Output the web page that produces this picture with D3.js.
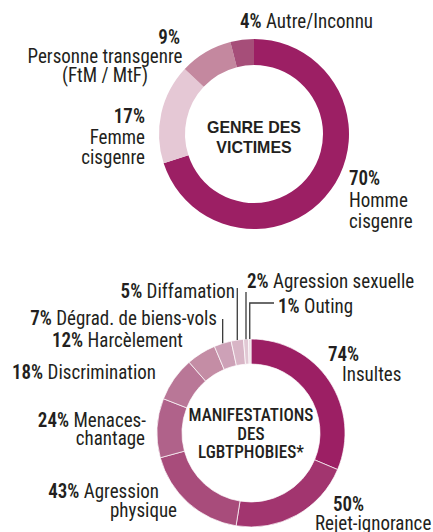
<!DOCTYPE html>
<html>
<head>
<meta charset="utf-8">
<script src="https://cdn.jsdelivr.net/npm/d3@7"></script>
<style>
  body { margin: 0; background: #fff; }
</style>
</head>
<body>
<svg id="mainsvg" width="433" height="532"></svg>
<script>
// ---- data ----
const genreValues = [70, 17, 9, 4];
const genreNames = [['Homme', 'cisgenre'], ['Femme', 'cisgenre'], ['Personne transgenre', '(FtM / MtF)'], ['Autre/Inconnu']];
const genreColors = ['#9c1f64', '#e5c8d5', '#c4889f', '#a64e79'];
const genreTitle = ['GENRE DES', 'VICTIMES'];

const manifValues = [74, 50, 43, 24, 18, 12, 7, 5, 2, 1];
const manifNames = [['Insultes'], ['Rejet-ignorance'], ['Agression', 'physique'], ['Menaces-', 'chantage'],
  ['Discrimination'], ['Harcèlement'], ['Dégrad. de biens-vols'], ['Diffamation'], ['Agression sexuelle'], ['Outing']];
const manifColors = ['#9c1f64', '#a2356f', '#a84c7b', '#b0628a', '#b97797', '#c48da5', '#cda1b7', '#d8b5c6', '#e1c8d4', '#ebdae2'];
const manifTitle = ['MANIFESTATIONS', 'DES', 'LGBTPHOBIES*'];

// ---- label layout (pct on own line?, then [x, y, anchor] per line) ----
const genreLayout = [
  { own: true, lines: [[349, 185, 'start'], [349, 206.5, 'start'], [349, 227.5, 'start']] },
  { own: true, lines: [[145, 123, 'end'], [145, 143.5, 'end'], [145, 164, 'end']] },
  { own: true, lines: [[180, 44, 'end'], [105, 63, 'middle'], [105, 82, 'middle']] },
  { own: false, lines: [[240, 28, 'start']] }
];
const manifLayout = [
  { own: true, lines: [[328, 361, 'start'], [342, 381, 'start']] },
  { own: true, lines: [[333, 511, 'start'], [315, 530, 'start']] },
  { own: false, lines: [[159, 498, 'end'], [177, 517, 'end']] },
  { own: false, lines: [[146, 427, 'end'], [145, 445, 'end']] },
  { own: false, lines: [[156, 379, 'end']] },
  { own: false, lines: [[183, 347, 'end']] },
  { own: false, lines: [[217, 325, 'end']], lead: 319 },
  { own: false, lines: [[235, 298, 'end']], lead: 288 },
  { own: false, lines: [[247, 288, 'start']], lead: 292 },
  { own: false, lines: [[278, 313, 'start']], lead: 303, elbow: 274 }
];

const svg = d3.select('#mainsvg');
const ink = '#231f20';

const labelFont = '"Roboto Condensed", "Liberation Sans Narrow", Roboto, sans-serif';
const titleFont1 = '"Liberation Sans", Arial, sans-serif';
const fontSize = 20.5;

// measure with the real svg renderer, then squeeze to the reference widths
function svgWidth(str, family, size, weight) {
  const t = svg.append('text').attr('font-family', family).attr('font-size', size)
    .attr('font-weight', weight).text(str);
  const w = t.node().getComputedTextLength();
  t.remove();
  return w;
}
const labelScale = 155 / svgWidth('Personne transgenre', labelFont, fontSize, 400);
const titleScale2 = 125 / svgWidth('MANIFESTATIONS', labelFont, 18.5, 500);
const titleScale1 = 94 / svgWidth('GENRE DES', titleFont1, 16, 700);

function addText(x, y, anchor, parts, scale, size, family) {
  const t = svg.append('text')
    .attr('transform', `translate(${x},${y}) scale(${scale},1)`)
    .attr('text-anchor', anchor)
    .attr('font-family', family)
    .attr('font-size', size)
    .attr('fill', ink);
  parts.forEach(p => t.append('tspan').attr('font-weight', p.w).text(p.s));
  return t;
}

function donut(cfg) {
  const g = svg.append('g').attr('transform', `translate(${cfg.cx},${cfg.cy})`);
  const pie = d3.pie().sort(null).value(d => d)(cfg.values);
  const arc = d3.arc().innerRadius(cfg.r0).outerRadius(cfg.r1);
  g.selectAll('path').data(pie).join('path')
    .attr('d', arc)
    .attr('fill', (d, i) => cfg.colors[i])
    .attr('stroke', cfg.sep ? '#fff' : 'none')
    .attr('stroke-width', cfg.sep || 0);

  // center title
  cfg.title.forEach((s, i) => {
    addText(cfg.cx, cfg.titleY + i * cfg.titleStep, 'middle', [{ w: cfg.titleWeight, s }],
      cfg.titleScale, cfg.titleSize, cfg.titleFont);
  });

  // labels
  pie.forEach((d, i) => {
    const lay = cfg.layout[i];
    const pct = { w: 600, s: cfg.values[i] + '%' };
    const rows = [];
    if (lay.own) {
      rows.push([pct]);
      cfg.names[i].forEach(n => rows.push([{ w: 400, s: n }]));
    } else {
      cfg.names[i].forEach((n, k) => rows.push(k === 0 ? [pct, { w: 400, s: ' ' + n }] : [{ w: 400, s: n }]));
    }
    rows.forEach((parts, k) => {
      const [x, y, a] = lay.lines[k];
      addText(x, y, a, parts, labelScale, fontSize, labelFont);
    });

    if (lay.lead !== undefined) {
      const mid = (d.startAngle + d.endAngle) / 2;
      const px = cfg.cx + cfg.r1 * Math.sin(mid);
      const py = cfg.cy - cfg.r1 * Math.cos(mid);
      const pts = [[px, py], [px, lay.lead]];
      if (lay.elbow) pts.push([lay.elbow, lay.lead]);
      svg.append('path')
        .attr('d', d3.line()(pts))
        .attr('fill', 'none')
        .attr('stroke', '#3a3a3a')
        .attr('stroke-width', 1.3);
    }
  });
}

donut({
  cx: 254, cy: 134, r0: 69, r1: 95,
  values: genreValues, names: genreNames, colors: genreColors, layout: genreLayout,
  title: genreTitle, titleY: 133.3, titleStep: 19.4, titleSize: 16, titleWeight: 700,
  titleFont: titleFont1, titleScale: titleScale1
});

donut({
  cx: 251, cy: 433, r0: 69, r1: 94, sep: 0.7,
  values: manifValues, names: manifNames, colors: manifColors, layout: manifLayout,
  title: manifTitle, titleY: 420.7, titleStep: 18.8, titleSize: 18.5, titleWeight: 500,
  titleFont: labelFont, titleScale: titleScale2
});
</script>
</body>
</html>
